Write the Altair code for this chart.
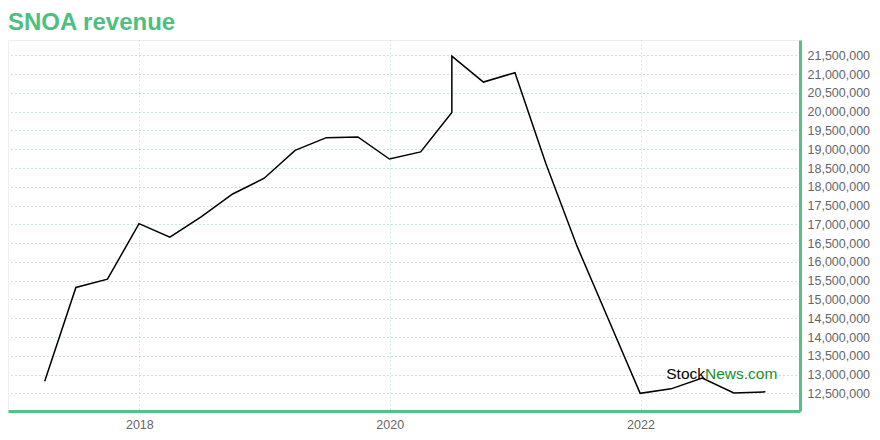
import altair as alt
import pandas as pd

dates = [
    "2017-03-31", "2017-06-30", "2017-09-30", "2017-12-31",
    "2018-03-31", "2018-06-30", "2018-09-30", "2018-12-31",
    "2019-03-31", "2019-06-30", "2019-09-30", "2019-12-31",
    "2020-03-31", "2020-06-30", "2020-06-30", "2020-09-30", "2020-12-31",
    "2021-03-31", "2021-06-30", "2021-09-30", "2021-12-31",
    "2022-03-31", "2022-06-30", "2022-09-30", "2022-12-31",
]
revenue = [
    12820000, 15320000, 15540000, 17020000,
    16660000, 17200000, 17810000, 18230000,
    18970000, 19310000, 19330000, 18740000,
    18930000, 19980000, 21480000, 20790000, 21040000,
    18620000, 16420000, 14460000, 12500000,
    12620000, 12910000, 12510000, 12540000,
]
y_ticks = [12500000 + 500000 * i for i in range(19)]
x_ticks = [alt.DateTime(year=2018, month=1, date=1),
           alt.DateTime(year=2020, month=1, date=1),
           alt.DateTime(year=2022, month=1, date=1)]

df = pd.DataFrame({"date": dates, "revenue": revenue, "idx": list(range(len(dates)))})

GREEN = "#56c184"
GRID = "#7fd1a0"
FONT = "Liberation Sans"

line = alt.Chart(df).mark_line(color="black", strokeWidth=1.5).encode(
    x=alt.X("date:T",
            scale=alt.Scale(domain=[alt.DateTime(year=2016, month=12, date=14),
                                    alt.DateTime(year=2023, month=4, date=11)]),
            axis=alt.Axis(values=x_ticks, format="%Y", title=None, grid=True,
                          gridColor=GRID, gridDash=[1, 3], gridOpacity=0.7,
                          domainColor=GREEN, domainWidth=3, ticks=False,
                          labelColor="#666666", labelFontSize=12.5, labelFont=FONT,
                          labelPadding=7)),
    y=alt.Y("revenue:Q",
            scale=alt.Scale(domain=[12030000, 21910000], nice=False, zero=False),
            axis=alt.Axis(orient="right", values=y_ticks, format=",d", title=None,
                          grid=True, gridColor=GRID, gridDash=[1, 3], gridOpacity=0.9,
                          domainColor=GREEN, domainWidth=3, ticks=False,
                          labelColor="#666666", labelFontSize=12.5, labelFont=FONT,
                          labelPadding=7)),
    order="idx:Q",
)

wm1 = alt.Chart(pd.DataFrame({"t": ["Stock"]})).mark_text(
    align="right", baseline="alphabetic", fontSize=15.5, font=FONT, color="black"
).encode(text="t:N", x=alt.value(697), y=alt.value(339))
wm2 = alt.Chart(pd.DataFrame({"t": ["News.com"]})).mark_text(
    align="left", baseline="alphabetic", fontSize=15.5, font=FONT, color="#1a8f2e"
).encode(text="t:N", x=alt.value(697), y=alt.value(339))

chart = alt.layer(line, wm1, wm2).properties(
    width=792, height=371,
    autosize=alt.AutoSizeParams(type="none"),
    padding={"left": 0, "top": 32, "right": 72, "bottom": 30},
    title=alt.TitleParams("SNOA revenue", anchor="start", frame="group",
                          fontSize=24, font=FONT, fontWeight="bold",
                          color="#4dbf7f", offset=5, dx=0),
).configure_view(stroke="#eeeeee", strokeWidth=1)

chart.save("out.html", embed_options={"renderer": "svg", "actions": False})
